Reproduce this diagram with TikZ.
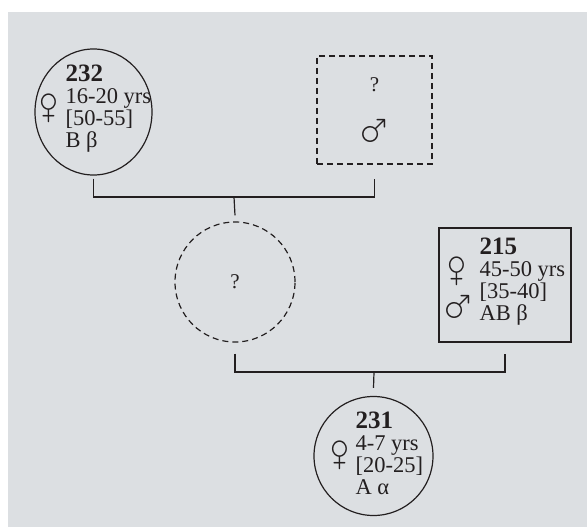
\documentclass[tikz,border=0pt]{standalone}
\usepackage{fontspec}
\setmainfont{Liberation Serif}
\usepackage{wasysym}
\usepackage{xcolor}
\usetikzlibrary{positioning,shapes.geometric}

\definecolor{panel}{RGB}{220,223,226}
\definecolor{ink}{RGB}{35,31,32}
\newcommand{\femsign}{\scalebox{2.9}[3.2]{\female}}
\newcommand{\malesign}{\scalebox{3.1}{\male}}

\begin{document}
\begin{tikzpicture}[x=1pt, y=-1pt, line width=1.2pt, ink, indiv/.style={draw, inner sep=0pt}, unknown/.style={indiv, dash pattern=on 6pt off 4pt}, info/.style={align=left, inner sep=0pt, font=\fontsize{22.5}{22}\selectfont}, sex/.style={inner sep=0pt, font=\fontsize{12}{12}\selectfont}, link/.style={draw, line width=1.2pt}]

\useasboundingbox (0,0) rectangle (587,527);
\fill[panel] (8,12) rectangle (587,527);

% individuals
\node[indiv, ellipse, minimum width=117pt, minimum height=126pt] (p232) at (93.5,112) {};
\node[unknown, rectangle, minimum width=115pt, minimum height=108pt] (sire) at (374.5,110) {};
\node[unknown, circle, minimum size=120pt, font=\fontsize{21}{21}\selectfont] (mid) at (235,282) {?};
\node[indiv, rectangle, minimum width=132pt, minimum height=114pt] (p215) at (505,285) {};
\node[indiv, circle, minimum size=119pt] (p231) at (373.5,456) {};

% labels
\node[info, anchor=north west] (t232) at (65,64) {{\bfseries\fontsize{25}{25}\selectfont 232}\\16-20 yrs\\{[50-55]}\\B β};
\node[sex] (s232) at (49,108) {\femsign};

\node[font=\fontsize{21}{21}\selectfont, inner sep=0pt] (q) at ([yshift=25pt]sire.center) {?};
\node[sex] (ssire) at (375.5,129) {\malesign};

\node[info, anchor=north west] (t215) at (479,237) {{\bfseries\fontsize{25}{25}\selectfont 215}\\45-50 yrs\\{[35-40]}\\AB β};
\node[sex] (f215) at (457,271) {\femsign};
\node[sex] (m215) at (459,305) {\malesign};

\node[info, anchor=north west] (t231) at (355,411) {{\bfseries\fontsize{25}{25}\selectfont 231}\\4-7 yrs\\{[20-25]}\\A α};
\node[sex] (s231) at (340,455) {\femsign};

% brackets
\coordinate (j1) at (234,197);
\coordinate (j2) at (374,372);
\draw[link] ([yshift=-3pt]p232.south) |- (j1) -| ([yshift=-14pt]sire.south);
\draw[link] (j1) -- ([yshift=6pt]mid.north);
\draw[link] ([yshift=-11pt]mid.south) |- (j2) -| ([yshift=-11pt]p215.south);
\draw[link] (j2) -- ([yshift=8pt]p231.north);
\end{tikzpicture}
\end{document}
